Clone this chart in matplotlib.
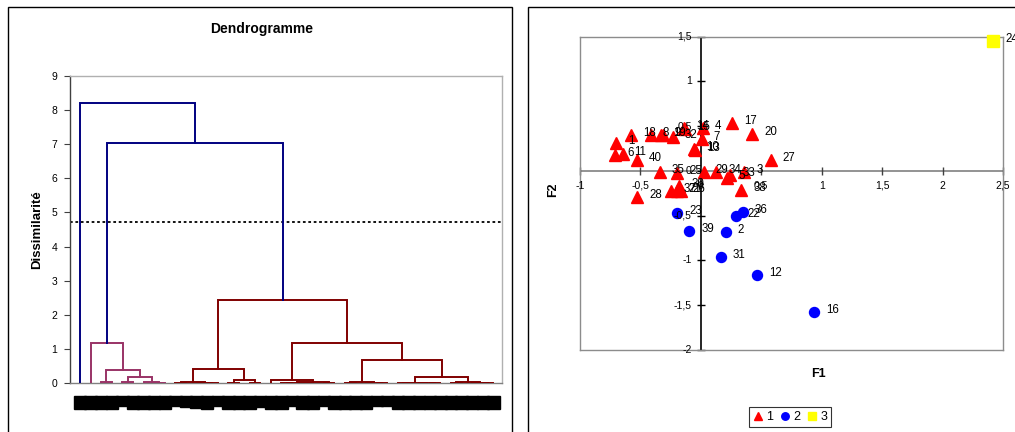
import matplotlib
matplotlib.use("Agg")
import matplotlib.pyplot as plt
from matplotlib.patches import Rectangle
from matplotlib.lines import Line2D

plt.rcParams['font.family'] = ['Liberation Sans', 'DejaVu Sans']

# ---------------- Dendrogram data ----------------
leaf_labels = [24, 16, 12, 31, 2, 39, 22, 36, 23,
               1, 6, 11, 18, 8, 40, 28, 19, 9, 14, 15, 4, 17, 20, 7, 10,
               13, 32, 27, 3, 5, 33, 38, 29, 34, 35, 25, 30, 21, 26, 37]
leaf_class = [3] + [2] * 8 + [1] * 31
# (node name, left child, right child, height); ints = leaf positions, strings = earlier nodes
merges = [
    ("p1", 2, 3, 0.04), ("p2", 4, 5, 0.04), ("p3", 7, 8, 0.01),
    ("p4", 6, "p3", 0.04), ("p5", "p2", "p4", 0.19), ("p6", "p1", "p5", 0.38),
    ("P", 1, "p6", 1.17),
    ("a1", 9, 10, 0.01), ("a2", 12, 13, 0.01), ("a3", 11, "a2", 0.02),
    ("a4", "a1", "a3", 0.04), ("a5", 14, 15, 0.01), ("a6", 16, 17, 0.02),
    ("a7", "a5", "a6", 0.09), ("A", "a4", "a7", 0.42),
    ("b1", 19, 20, 0.005), ("b2", 21, 22, 0.005), ("b3", "b1", "b2", 0.01),
    ("b4", 23, 24, 0.01), ("b5", "b3", "b4", 0.03), ("b6", 18, "b5", 0.09),
    ("c1", 25, 26, 0.01), ("c2", 28, 29, 0.01), ("c3", 27, "c2", 0.02),
    ("c4", "c1", "c3", 0.04),
    ("d1", 30, 31, 0.005), ("d2", 33, 34, 0.003), ("d3", 32, "d2", 0.006),
    ("d4", "d1", "d3", 0.01),
    ("e1", 35, 36, 0.01), ("e2", 38, 39, 0.005), ("e3", 37, "e2", 0.01),
    ("e4", "e1", "e3", 0.04),
    ("f1", "d4", "e4", 0.17), ("f2", "c4", "f1", 0.69), ("B", "b6", "f2", 1.18),
    ("R", "A", "B", 2.43), ("T", "P", "R", 7.03), ("root", 0, "T", 8.2),
]
cut_height = 4.72
dendro_yticks = list(range(0, 10))

# ---------------- Scatter (F1/F2) data ----------------
obs = list(range(1, 41))
f1 = [-0.703, 0.207, 0.361, 0.019, 0.215, -0.711, 0.006, -0.416, -0.314, -0.055,
      -0.648, 0.466, -0.051, -0.141, -0.132, 0.940, 0.259, -0.575, -0.331, 0.424,
      -0.199, 0.290, -0.196, 2.418, -0.196, -0.165, 0.579, -0.525, 0.025, -0.178,
      0.163, -0.234, 0.244, 0.128, -0.342, 0.345, -0.244, 0.335, -0.097, -0.532]
f2 = [0.310, -0.682, -0.008, 0.477, -0.082, 0.179, 0.354, 0.402, 0.397, 0.242,
      0.190, -1.166, 0.237, 0.477, 0.464, -1.579, 0.540, 0.402, 0.402, 0.413,
      -0.223, -0.499, -0.466, 1.456, -0.026, -0.223, 0.123, -0.290, -0.008, -0.168,
      -0.964, 0.383, -0.050, -0.011, -0.008, -0.455, -0.229, -0.212, -0.667, 0.123]
cls = [1, 2, 1, 1, 1, 1, 1, 1, 1, 1,
       1, 2, 1, 1, 1, 2, 1, 1, 1, 1,
       1, 2, 2, 3, 1, 1, 1, 1, 1, 1,
       2, 1, 1, 1, 1, 2, 1, 1, 2, 1]
class_names = ["1", "2", "3"]
x_ticks = [-1, -0.5, 0, 0.5, 1, 1.5, 2, 2.5]
y_ticks = [-2, -1.5, -1, -0.5, 0, 0.5, 1, 1.5]

W, H = 1015, 432
fig = plt.figure(figsize=(W / 100, H / 100), dpi=100)


def fx(px):
    return px / W


def fy(py):
    return 1 - py / H


# outer frames
fig.add_artist(Rectangle((fx(8), -0.1), fx(512) - fx(8), fy(7) + 0.1,
                         transform=fig.transFigure, fill=False, ec='black', lw=1.0))
fig.add_artist(Rectangle((fx(528), -0.1), 0.6, fy(7) + 0.1,
                         transform=fig.transFigure, fill=False, ec='black', lw=1.0))

# ---------------- Dendrogram ----------------
ax1 = fig.add_axes([fx(70), fy(383.3), fx(502) - fx(70), fy(75.7) - fy(383.3)])
cols = {1: '#800000', 2: '#993366', 3: '#000080'}
nodes = {}


def child(c):
    if isinstance(c, int):
        return float(c), 0.0, leaf_class[c]
    return nodes[c]


for name, l, r, h in merges:
    xl, hl, cl = child(l)
    xr, hr, cr = child(r)
    if h > cut_height:
        col = '#000080'
    else:
        col = cols[cl]
    ax1.plot([xl, xl, xr, xr], [hl, h, h, hr], color=col, lw=1.4,
             solid_joinstyle='miter', zorder=3)
    nodes[name] = ((xl + xr) / 2, h, cl)

ax1.axhline(cut_height, color='black', lw=1.3, ls=(0, (1.5, 1.5)), zorder=2)
ax1.set_xlim(-0.94, 39.81)
ax1.set_ylim(0, 9)
ax1.set_yticks(dendro_yticks)
ax1.set_yticklabels([str(v) for v in dendro_yticks], fontsize=7.5)
ax1.tick_params(axis='y', length=4, width=0.8, color='#404040', pad=5)
ax1.set_xticks(range(len(leaf_labels)))
ax1.set_xticklabels([str(v).rjust(2) for v in leaf_labels], rotation=90, fontsize=7)
ax1.tick_params(axis='x', length=0, pad=10)
for t in ax1.get_xticklabels():
    t.set_bbox(dict(facecolor='black', edgecolor='black', boxstyle='square,pad=0.12'))
    t.set_color('black')
ax1.spines['left'].set_color('#404040')
ax1.spines['bottom'].set_color('#808080')
ax1.spines['top'].set_color('#b0b0b0')
ax1.spines['right'].set_color('#b0b0b0')
for s in ax1.spines.values():
    s.set_linewidth(1.0)
ax1.set_ylabel("Dissimilarité", fontsize=9.5, fontweight='bold', labelpad=6)
fig.text(fx(262), fy(29), "Dendrogramme", fontsize=10, fontweight='bold',
         ha='center', va='center')

# ---------------- Scatter ----------------
ax2 = fig.add_axes([fx(580), fy(350), fx(1003) - fx(580), fy(36.7) - fy(350)])
ax2.set_xlim(-1, 2.5)
ax2.set_ylim(-2, 1.5)
ax2.set_xticks([])
ax2.set_yticks([])
for s in ax2.spines.values():
    s.set_color('#8c8c8c')
    s.set_linewidth(1.0)
ax2.axhline(0, color='#808080', lw=1.2, zorder=1)
ax2.axvline(0, color='black', lw=1.2, zorder=1)
ax2.plot(x_ticks, [0] * len(x_ticks), ls='none', marker='|', ms=6, mew=1,
         color='#404040', zorder=1, clip_on=False)
ax2.plot([0] * len(y_ticks), y_ticks, ls='none', marker='_', ms=6, mew=1,
         color='black', zorder=1, clip_on=False)
for v in x_ticks:
    ax2.annotate(("%g" % v).replace('.', ','), (v, 0), xytext=(0, -15),
                 textcoords='offset pixels', ha='center', va='center',
                 fontsize=7.5, zorder=5, annotation_clip=False)
for v in y_ticks:
    ax2.annotate(("%g" % v).replace('.', ','), (0, v), xytext=(-9, 0),
                 textcoords='offset pixels', ha='right', va='center',
                 fontsize=7.5, zorder=5, annotation_clip=False)

styles = {1: dict(marker='^', color='#ff0000', ms=8.5),
          2: dict(marker='o', color='#0000ff', ms=7.2),
          3: dict(marker='s', color='#ffff00', ms=8.5)}
handles = []
for c in (1, 2, 3):
    xs = [a for a, k in zip(f1, cls) if k == c]
    ys = [b for b, k in zip(f2, cls) if k == c]
    st = styles[c]
    ax2.plot(xs, ys, ls='none', marker=st['marker'], color=st['color'],
             ms=st['ms'], mec=st['color'], zorder=3, clip_on=False)
    handles.append(Line2D([], [], ls='none', marker=st['marker'], color=st['color'],
                          ms=st['ms'] * 0.75, mec=st['color']))
for o, a, b in zip(obs, f1, f2):
    ax2.annotate(str(o), (a, b), xytext=(12, 2), textcoords='offset pixels',
                 ha='left', va='center', fontsize=8.3, color='black', zorder=4,
                 annotation_clip=False)

fig.text(fx(818), fy(374), "F1", fontsize=9, fontweight='bold', ha='center', va='center')
fig.text(fx(553), fy(190), "F2", fontsize=9, fontweight='bold', ha='center', va='center',
         rotation=90)

leg = fig.legend(handles, class_names, loc='center', bbox_to_anchor=(fx(790), fy(417)),
                 ncol=3, fontsize=9, frameon=True, fancybox=False, handlelength=0.8,
                 handletextpad=0.3, columnspacing=0.5, borderpad=0.3)
leg.get_frame().set_edgecolor('black')
leg.get_frame().set_linewidth(0.8)

fig.savefig("out.png", dpi=100)
